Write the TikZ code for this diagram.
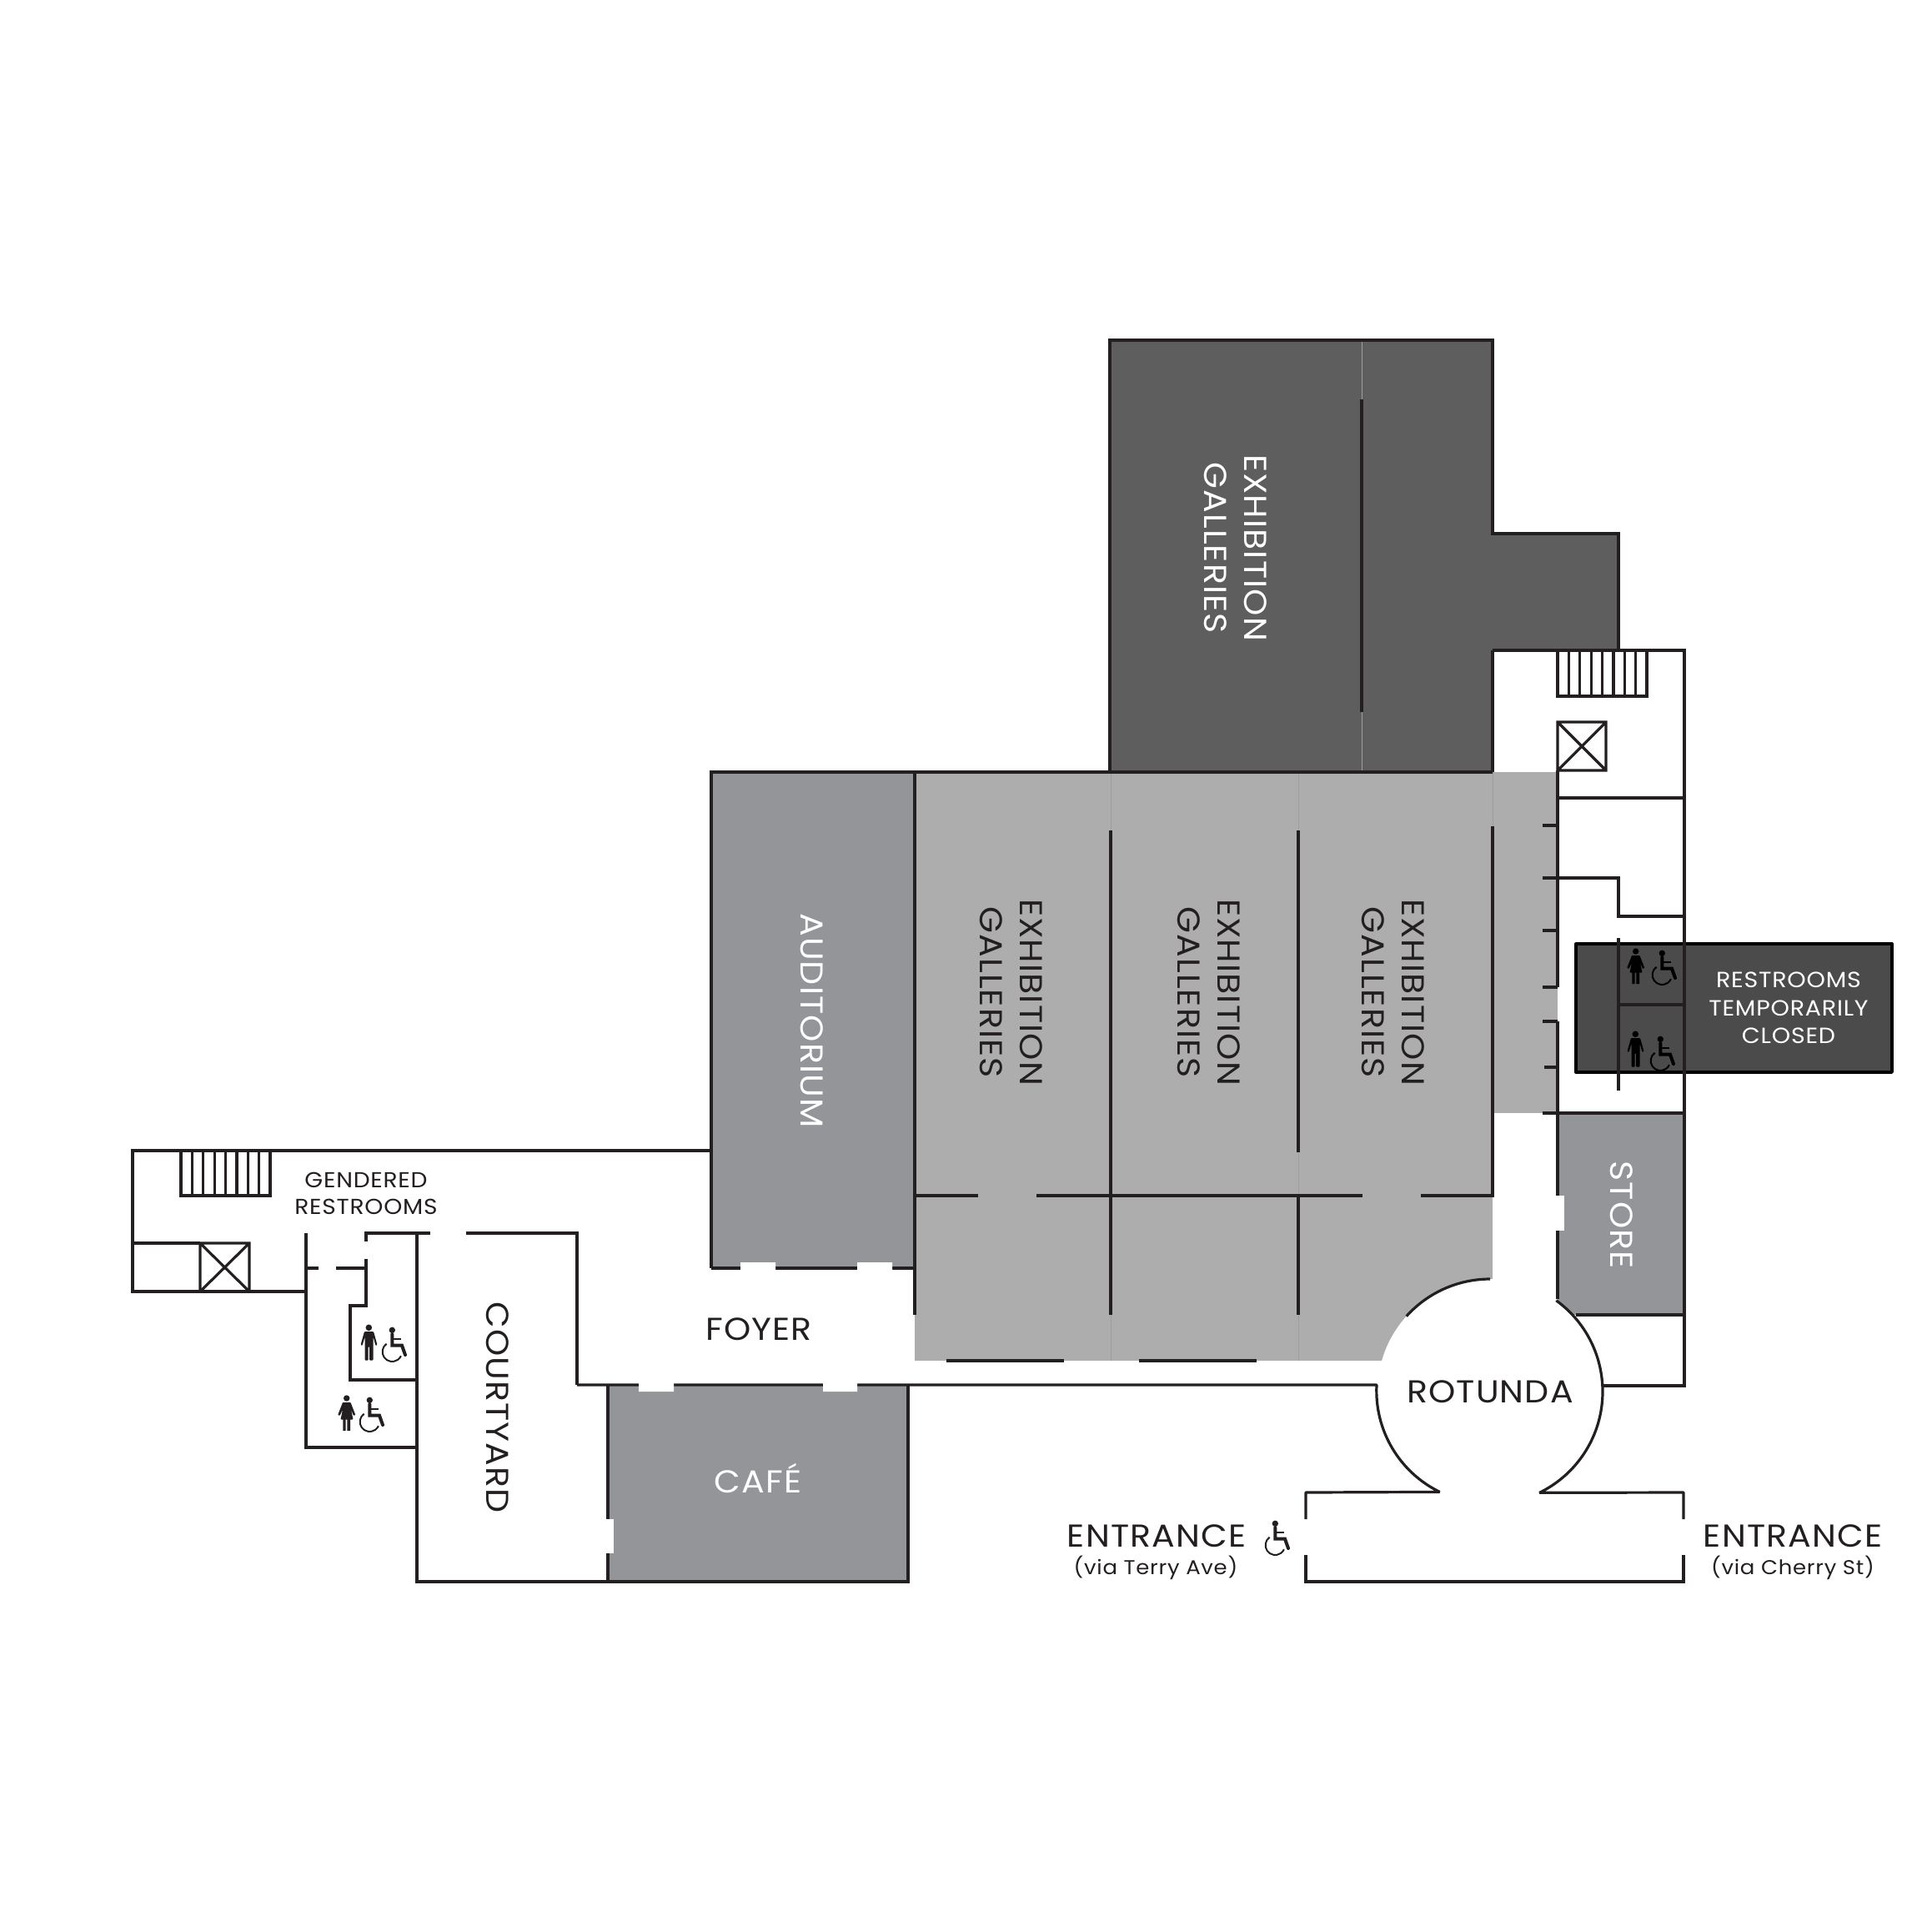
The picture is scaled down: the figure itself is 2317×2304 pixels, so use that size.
\documentclass[tikz,border=0pt]{standalone}
\usepackage{fontspec}
\setmainfont[FakeStretch=1.08,LetterSpace=3]{Poppins}
\definecolor{wallc}{HTML}{231F20}
\definecolor{darkroom}{HTML}{5E5E5E}
\definecolor{shutbox}{HTML}{4B4B4B}
\definecolor{galleryc}{HTML}{ADADAD}
\definecolor{roomc}{HTML}{939598}
\tikzset{
  wall/.style={draw=wallc,line width=0.8pt,line join=miter},
  seam/.style={draw=black!38,line width=0.12pt},
  doorgap/.style={fill=white,draw=none},
  roomlabel/.style={font=\fontsize{9.5}{12}\selectfont,align=center,inner sep=0pt},
  smalllabel/.style={font=\fontsize{6.5}{8}\selectfont,align=center,inner sep=0pt},
  wheelchair/.pic={
    \fill (12.3,3.3) circle[radius=3.7];
    \draw[line width=1pt,line cap=round] (12.3,8) -- (12.3,21.7) -- (24,21.7) -- (28,33);
    \draw[line width=0.6pt] (12.3,14) -- (23.3,14);
    \draw[line width=0.5pt] (5.6,19.7) arc[start angle=235,end angle=25,radius=11.7];
  },
  manicon/.pic={
    \fill (9.3,3.3) circle[radius=3.8];
    \fill[rounded corners=0.25pt] (4,8) -- (15,8) -- (19.5,24) -- (17.5,25) -- (14.5,14) -- (14.5,42.7)
      -- (10.2,42.7) -- (10.2,26) -- (8.7,26) -- (8.7,42.7) -- (4.7,42.7) -- (4.7,14) -- (1.5,25) -- (-0.5,24) -- cycle;
  },
  womanicon/.pic={
    \fill (9.7,3) circle[radius=3.7];
    \fill[rounded corners=0.2pt] (5,8) -- (14.5,8) -- (20.3,23) -- (18,24) -- (15,16.5) -- (17.5,28.5) -- (2.5,28.5)
      -- (5,16.5) -- (1.5,24) -- (-0.8,23) -- cycle;
    \fill (5.3,28) rectangle (8.6,42) (10.3,28) rectangle (14,42);
  }
}
\begin{document}
\begin{tikzpicture}[x=0.25pt,y=-0.25pt]
  \useasboundingbox (0,0) rectangle (2317,2304);
  \coordinate (rotc) at (1787,1669);

  % filled rooms
  \fill[darkroom] (1331,408) -- (1790,408) -- (1790,640) -- (1941,640) -- (1941,780) -- (1790,780)
    -- (1790,926) -- (1331,926) -- cycle;
  \fill[galleryc] (1097,926) rectangle (1868,1335);
  \fill[galleryc] (1097,1335) rectangle (1790,1632);
  \fill[roomc] (853,926) rectangle (1097,1521);
  \fill[roomc] (729,1661) rectangle (1089,1897);
  \fill[roomc] (1868,1335) rectangle (2019,1577);
  \fill[white] (rotc) circle[radius=135];
  \draw[seam] (1633,408) -- (1633,479) (1633,854) -- (1633,926);
  \draw[seam] (1332,926) -- (1332,996) (1557,926) -- (1557,996) (1790,926) -- (1790,991);
  \draw[seam] (1332,1577) -- (1332,1632) (1557,1577) -- (1557,1632) (1557,1382) -- (1557,1434);

  % closed restrooms box
  \draw[fill=shutbox,draw=black,line width=0.85pt,line join=round] (1890,1132) rectangle (2269,1286);

  % upper galleries
  \draw[wall] (1941,780) -- (1941,640) -- (1790,640) -- (1790,408) -- (1331,408) -- (1331,926);
  \draw[wall] (1790,780) -- (1790,926);
  \draw[wall] (1633,479) -- (1633,854);
  % service block on the right
  \draw[wall] (1790,780) -- (2020,780) -- (2020,1662) -- (1922,1662);
  \draw[wall] (1868,780) rectangle (1975,835);
  \foreach \i in {1,...,7}
    \draw[wall] ({1868+13.4*\i},780) -- ({1868+13.4*\i},835);
  \draw[wall] (1868,866) rectangle (1926,924) (1868,866) -- (1926,924) (1926,866) -- (1868,924);
  \draw[wall] (1868,924) -- (1868,1184) (1868,1225) -- (1868,1434) (1868,1476) -- (1868,1558);
  \draw[wall] (1868,957) -- (2020,957);
  \draw[wall] (1850,1053) -- (1941,1053) -- (1941,1099) -- (2020,1099);
  \draw[wall] (1941,1125) -- (1941,1308) (1941,1205) -- (2020,1205);
  \draw[wall] (1850,990) -- (1868,990) (1850,1116) -- (1868,1116) (1850,1184) -- (1868,1184);
  \draw[wall] (1850,1225) -- (1868,1225) (1852,1280) -- (1868,1280) (1850,1335) -- (2020,1335);
  \draw[wall] (1890,1577) -- (2020,1577);
  % lower galleries
  \draw[wall] (853,1521) -- (853,926) -- (1790,926);
  \draw[wall] (1097,926) -- (1097,1577);
  \draw[wall] (853,1521) -- (1097,1521);
  \draw[wall] (1332,996) -- (1332,1577);
  \draw[wall] (1557,996) -- (1557,1382) (1557,1434) -- (1557,1577);
  \draw[wall] (1790,991) -- (1790,1434) -- (1704,1434) (1634,1434) -- (1243,1434) (1173,1434) -- (1097,1434);
  \draw[wall] (1135,1632) -- (1276,1632) (1366,1632) -- (1507,1632);
  % rotunda and entrance hall
  \draw[wall] (rotc) ++(-90:135) arc[start angle=-90,end angle=-138,radius=135];
  \draw[wall,line join=bevel] (rotc) ++(-54:135) arc[start angle=-54,end angle=64,radius=135] -- (2019,1790) -- (2019,1822);
  \draw[wall,line join=bevel] (692,1661) -- (1651,1661) arc[start angle=183,end angle=116,radius=135] -- (1566,1790) -- (1566,1822);
  \draw[wall] (1566,1865) -- (1566,1897) -- (2019,1897) -- (2019,1865);
  % cafe and courtyard
  \draw[wall] (1089,1661) -- (1089,1897) -- (500,1897) -- (500,1479) -- (516,1479);
  \draw[wall] (729,1661) -- (729,1897);
  \draw[wall] (559,1479) -- (692,1479) -- (692,1661);
  % west wing
  \draw[wall] (853,1380) -- (159,1380) -- (159,1549) -- (367,1549);
  \draw[wall] (217,1380) rectangle (324,1434);
  \foreach \i in {1,...,7}
    \draw[wall] ({217+13.4*\i},1380) -- ({217+13.4*\i},1434);
  \draw[wall] (159,1491) -- (240,1491);
  \draw[wall] (240,1491) rectangle (299,1549) (240,1491) -- (299,1549) (299,1491) -- (240,1549);
  \draw[wall] (367,1479) -- (367,1736) -- (500,1736);
  \draw[wall] (367,1521) -- (382,1521) (403,1521) -- (439,1521);
  \draw[wall] (500,1479) -- (439,1479) -- (439,1489);
  \draw[wall] (439,1510) -- (439,1566) -- (420,1566) -- (420,1655) -- (500,1655);

  % door gaps
  \fill[doorgap] (888,1514) rectangle (930,1524) (1028,1514) rectangle (1070,1524);
  \fill[doorgap] (766,1658) rectangle (808,1669) (987,1658) rectangle (1028,1669);
  \fill[doorgap] (726,1822) rectangle (736,1863);
  \fill[doorgap] (1865,1434) rectangle (1876,1476);

  % icons
  \pic[black] at (1952,1138) {womanicon};
  \pic[black] at (1981,1140) {wheelchair};
  \pic[black] at (1952,1237) {manicon};
  \pic[black] at (1979,1243) {wheelchair};
  \pic[wallc] at (433,1589) {manicon};
  \pic[wallc] at (458,1592) {wheelchair};
  \pic[wallc] at (406,1674) {womanicon};
  \pic[wallc] at (431,1676) {wheelchair};
  \pic[wallc] at (1517,1824) {wheelchair};

  % labels
  \node[roomlabel,white,rotate=-90] (topgal) at (1482,657) {EXHIBITION\\GALLERIES};
  \node[roomlabel,wallc,rotate=-90] (galone) at (1213,1190) {EXHIBITION\\GALLERIES};
  \node[roomlabel,wallc,rotate=-90] (galtwo) at (1450,1190) {EXHIBITION\\GALLERIES};
  \node[roomlabel,wallc,rotate=-90] (galthree) at (1671,1190) {EXHIBITION\\GALLERIES};
  \node[roomlabel,white,rotate=-90] (audit) at (974,1224) {AUDITORIUM};
  \node[roomlabel,white,rotate=-90] (store) at (1945,1457) {STORE};
  \node[roomlabel,wallc,rotate=-90] (court) at (597,1688) {COURTYARD};
  \node[roomlabel,wallc] (foyer) at (910,1594) {FOYER};
  \node[roomlabel,white,anchor=base] (cafe) at (909,1790) {CAFÉ};
  \node[roomlabel,wallc] (rotunda) at (1787,1669) {ROTUNDA};
  \node[smalllabel,wallc] (gendered) at (439,1431) {GENDERED\\RESTROOMS};
  \node[smalllabel,white,font=\fontsize{6.6}{8.35}\selectfont] (closed) at (2145,1209) {RESTROOMS\\TEMPORARILY\\CLOSED};
  \node[roomlabel,wallc] (entwest) at (1387,1842) {ENTRANCE};
  \node[smalllabel,wallc,font=\fontsize{6}{8}\selectfont] (terry) at (1386,1880) {(via Terry Ave)};
  \node[roomlabel,wallc] (enteast) at (2150,1842) {ENTRANCE};
  \node[smalllabel,wallc,font=\fontsize{6}{8}\selectfont] (cherry) at (2150,1880) {(via Cherry St)};
\end{tikzpicture}
\end{document}
